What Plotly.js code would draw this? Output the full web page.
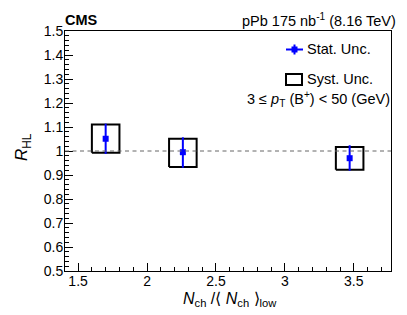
<!DOCTYPE html>
<html><head><meta charset="utf-8">
<script src="https://cdn.plot.ly/plotly-3.0.1.min.js"></script>
<style>body{margin:0;background:#fff}#c{width:407px;height:315px}</style>
</head><body><div id="c"></div>
<script>
// Data
const xVals   = [1.70, 2.26, 3.47];
const yVals   = [1.051, 0.995, 0.970];
const statLo  = [0.063, 0.065, 0.052];
const statHi  = [0.063, 0.062, 0.054];
const systLo  = [0.058, 0.062, 0.048];
const systHi  = [0.059, 0.056, 0.047];
const boxHalfWidth = 0.1;
const yTickVals = [0.5,0.6,0.7,0.8,0.9,1,1.1,1.2,1.3,1.4,1.5];
const yTickText = ['0.5','0.6','0.7','0.8','0.9','1','1.1','1.2','1.3','1.4','1.5'];
const xTickVals = [1.5,2,2.5,3,3.5];
const xTickText = ['1.5','2','2.5','3','3.5'];

const FONT = 'Liberation Sans, Arial, Helvetica, sans-serif';

// Systematic boxes as closed rectangles
const bx = [], by = [];
for (let i = 0; i < xVals.length; i++) {
  const x0 = xVals[i]-boxHalfWidth, x1 = xVals[i]+boxHalfWidth;
  const y0 = yVals[i]-systLo[i], y1 = yVals[i]+systHi[i];
  bx.push(x0,x1,x1,x0,x0,null);
  by.push(y0,y0,y1,y1,y0,null);
}

const traces = [
  {x: bx, y: by, mode:'lines', line:{color:'#000', width:2}, hoverinfo:'skip', showlegend:false},
  {x: xVals, y: yVals, mode:'markers', marker:{symbol:'square', size:6, color:'#0000ff'},
   error_y:{type:'data', symmetric:false, array: statHi, arrayminus: statLo, width:0, thickness:2, color:'#0000ff'},
   showlegend:false}
];

const px = v => (v-65)/326, py = v => (271-v)/240;

const layout = {
  width:407, height:315,
  margin:{l:65, r:16, t:31, b:44},
  paper_bgcolor:'#fff', plot_bgcolor:'#fff',
  font:{family:FONT, size:14, color:'#000'},
  showlegend:false,
  xaxis:{range:[1.405,3.77], showgrid:false, zeroline:false, showline:true, mirror:true,
         linecolor:'#000', linewidth:1, ticks:'inside', ticklen:8, tickcolor:'#000', ticklabelstandoff:-3,
         tickvals:xTickVals, ticktext:xTickText, tickfont:{size:14, family:FONT},
         minor:{dtick:0.1, tick0:1.4, ticks:'inside', ticklen:4, tickcolor:'#000', showgrid:false}},
  yaxis:{range:[0.5,1.5], showgrid:false, zeroline:false, showline:true, mirror:true,
         linecolor:'#000', linewidth:1, ticks:'inside', ticklen:8, tickcolor:'#000', ticklabelstandoff:-2,
         tickvals:yTickVals, ticktext:yTickText, tickfont:{size:14, family:FONT},
         minor:{dtick:0.02, tick0:0.5, ticks:'inside', ticklen:4, tickcolor:'#000', showgrid:false}},
  shapes:[
    {type:'line', xref:'paper', yref:'y', x0:0, x1:1, y0:1, y1:1, line:{color:'#666', width:1, dash:'4px,3.5px'}},
    // legend symbols
    {type:'line', xref:'paper', yref:'paper', x0:px(286), x1:px(303), y0:py(49.5), y1:py(49.5), line:{color:'#0000ff', width:2}},
    {type:'line', xref:'paper', yref:'paper', x0:px(294.5), x1:px(294.5), y0:py(44.5), y1:py(54.5), line:{color:'#0000ff', width:2}},
    {type:'rect', xref:'paper', yref:'paper', x0:px(291.5), x1:px(297.5), y0:py(46.5), y1:py(52.5), fillcolor:'#0000ff', line:{width:0}},
    {type:'rect', xref:'paper', yref:'paper', x0:px(286), x1:px(302), y0:py(74), y1:py(85), line:{color:'#000', width:2}}
  ],
  annotations:[
    {xref:'paper', yref:'paper', x:px(63), y:py(20), xanchor:'left', yanchor:'middle', showarrow:false,
     text:'<b>CMS</b>', font:{size:14.5, family:FONT}},
    {xref:'paper', yref:'paper', x:px(398), y:py(20), xanchor:'right', yanchor:'middle', showarrow:false,
     text:'pPb 175 nb<sup>-1</sup> (8.16 TeV)', font:{size:14.5, family:FONT}},
    {xref:'paper', yref:'paper', x:px(305), y:py(49.5), xanchor:'left', yanchor:'middle', showarrow:false,
     text:'Stat. Unc.', font:{size:14.5, family:FONT}},
    {xref:'paper', yref:'paper', x:px(305), y:py(79.5), xanchor:'left', yanchor:'middle', showarrow:false,
     text:'Syst. Unc.', font:{size:14.5, family:FONT}},
    {xref:'paper', yref:'paper', x:px(392), y:py(99), xanchor:'right', yanchor:'middle', showarrow:false,
     text:'3 ≤ <i>p</i><sub>T</sub> (B<sup>+</sup>) < 50 (GeV)', font:{size:14.5, family:FONT}},
    {xref:'paper', yref:'paper', x:px(230), y:py(299), xanchor:'center', yanchor:'middle', showarrow:false,
     text:'<i>N</i><sub>ch</sub> /⟨ <i>N</i><sub>ch</sub> ⟩<sub>low</sub>', font:{size:16, family:FONT}},
    {xref:'paper', yref:'paper', x:px(23), y:py(147), xanchor:'center', yanchor:'middle', showarrow:false, textangle:-90,
     text:'<i>R</i><sub>HL</sub>', font:{size:17, family:FONT}}
  ]
};

Plotly.newPlot('c', traces, layout, {staticPlot:true, displayModeBar:false});
</script></body></html>
